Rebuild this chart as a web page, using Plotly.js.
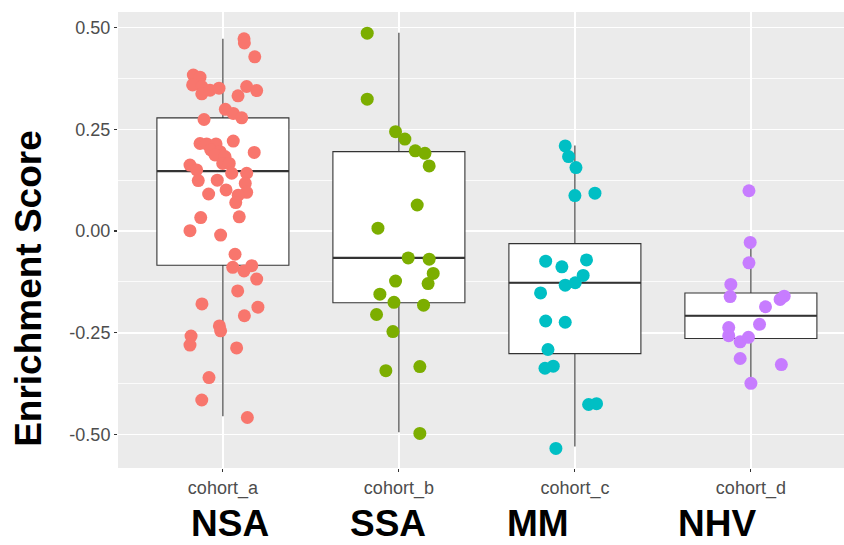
<!DOCTYPE html>
<html>
<head>
<meta charset="utf-8">
<script src="https://cdn.plot.ly/plotly-3.0.1.min.js"></script>
<style>html,body{margin:0;padding:0;background:#fff;}#chart{width:844px;height:545px;}</style>
</head>
<body>
<div id="chart"></div>
<script>
// ---- data ----
const categories = ['cohort_a', 'cohort_b', 'cohort_c', 'cohort_d'];
const groupLabels = ['NSA', 'SSA', 'MM', 'NHV'];
const groupColors = ['#F8766D', '#7CAE00', '#00BFC4', '#C77CFF'];

// box statistics (q1, median, q3, whisker ends)
const boxQ1 = [-0.084, -0.176, -0.301, -0.264];
const boxMedian = [0.147, -0.066, -0.127, -0.208];
const boxQ3 = [0.278, 0.195, -0.031, -0.152];
const boxLower = [-0.455, -0.494, -0.529, -0.373];
const boxUpper = [0.472, 0.487, 0.210, -0.028];

// jittered points: values and horizontal jitter (category units)
const aValues = [0.472, 0.462, 0.428, 0.383, 0.378, 0.359, 0.355, 0.337, 0.346, 0.351, 0.355, 0.345, 0.332, 0.299, 0.289, 0.278, 0.274, 0.215, 0.214, 0.214, 0.221, 0.199, 0.195, 0.187, 0.183, 0.193, 0.162, 0.150, 0.166, 0.166, 0.142, 0.142, 0.124, 0.125, 0.117, 0.101, 0.095, 0.091, 0.088, 0.070, 0.033, 0.035, 0.001, -0.010, -0.057, -0.089, -0.098, -0.085, -0.118, -0.147, -0.179, -0.187, -0.208, -0.233, -0.245, -0.258, -0.280, -0.287, -0.360, -0.415, -0.458];
const aJitter = [0.120, 0.122, 0.181, -0.168, -0.130, -0.172, -0.120, -0.120, -0.073, -0.022, 0.135, 0.192, 0.086, 0.014, 0.059, 0.107, -0.107, -0.130, -0.092, -0.039, 0.059, -0.069, -0.016, -0.045, 0.012, 0.178, -0.187, -0.149, -0.001, 0.036, 0.050, 0.135, -0.140, -0.032, 0.127, 0.018, 0.135, -0.081, 0.087, 0.073, -0.126, 0.093, -0.187, -0.013, 0.069, 0.056, 0.120, 0.164, 0.192, 0.084, -0.119, 0.199, 0.122, -0.020, -0.013, -0.181, -0.187, 0.078, -0.079, -0.120, 0.139];

const bValues = [0.486, 0.324, 0.244, 0.226, 0.197, 0.191, 0.160, 0.064, 0.007, -0.066, -0.069, -0.104, -0.129, -0.123, -0.155, -0.175, -0.182, -0.205, -0.247, -0.343, -0.333, -0.497];
const bJitter = [-0.180, -0.180, -0.019, 0.034, 0.093, 0.148, 0.172, 0.104, -0.119, 0.053, 0.172, 0.195, 0.166, -0.019, -0.108, -0.028, 0.140, -0.127, -0.034, -0.074, 0.119, 0.119];

const cValues = [0.209, 0.183, 0.156, 0.087, 0.093, -0.074, -0.071, -0.088, -0.109, -0.127, -0.133, -0.152, -0.221, -0.224, -0.291, -0.337, -0.332, -0.426, -0.424, -0.534];
const cJitter = [-0.055, -0.036, 0.006, 0.000, 0.114, -0.166, 0.066, -0.074, 0.047, 0.002, -0.055, -0.195, -0.166, -0.055, -0.153, -0.170, -0.123, 0.078, 0.123, -0.108];

const dValues = [0.099, -0.028, -0.078, -0.131, -0.161, -0.160, -0.168, -0.186, -0.229, -0.237, -0.257, -0.272, -0.261, -0.313, -0.328, -0.374];
const dJitter = [-0.011, -0.004, -0.011, -0.114, -0.118, 0.189, 0.166, 0.083, 0.049, -0.126, -0.126, -0.061, -0.014, -0.061, 0.173, 0.000];

const yTickVals = [-0.5, -0.25, 0, 0.25, 0.5];
const yTickText = ['-0.50', '-0.25', '0.00', '0.25', '0.50'];

// ---- build traces ----
const positions = categories.map((c, i) => i + 1);
const boxWidth = 0.75;
const traces = [];

traces.push({
  type: 'box',
  x: positions,
  q1: boxQ1, median: boxMedian, q3: boxQ3,
  lowerfence: boxLower, upperfence: boxUpper,
  width: boxWidth,
  boxpoints: false,
  whiskerwidth: 0,
  fillcolor: '#FFFFFF',
  line: {color: '#333333', width: 1.1},
  hoverinfo: 'skip'
});

// thicker median segments (ggplot fattened median)
const medX = [], medY = [];
positions.forEach((p, i) => {
  medX.push(p - boxWidth / 2, p + boxWidth / 2, null);
  medY.push(boxMedian[i], boxMedian[i], null);
});
traces.push({
  type: 'scatter', mode: 'lines', x: medX, y: medY,
  line: {color: '#333333', width: 2.2}, hoverinfo: 'skip'
});

const groupValues = [aValues, bValues, cValues, dValues];
const groupJitter = [aJitter, bJitter, cJitter, dJitter];
groupValues.forEach((vals, i) => {
  traces.push({
    type: 'scatter', mode: 'markers',
    x: vals.map((v, k) => positions[i] + groupJitter[i][k]),
    y: vals,
    marker: {color: groupColors[i], size: 13, line: {width: 0}},
    name: categories[i]
  });
});

const annotations = groupLabels.map((lab, i) => ({
  text: '<b>' + lab + '</b>', showarrow: false,
  xref: 'x', yref: 'paper',
  x: [1.041, 1.939, 2.790, 3.806][i], y: -0.1228,
  xanchor: 'center', yanchor: 'middle',
  font: {family: 'Liberation Sans, Arial, sans-serif', size: 37, color: '#000000'}
}));
annotations.push({
  text: '<b>Enrichment Score</b>', showarrow: false, textangle: -90,
  xref: 'paper', yref: 'paper', x: -0.1226, y: 0.395,
  xanchor: 'center', yanchor: 'middle',
  font: {family: 'Liberation Sans, Arial, sans-serif', size: 37, color: '#000000'}
});

const tickFont = {family: 'Liberation Sans, Arial, sans-serif', size: 18, color: '#4D4D4D'};

const layout = {
  width: 844, height: 545,
  margin: {l: 118, r: 0, t: 12, b: 77, pad: 0},
  paper_bgcolor: '#FFFFFF',
  plot_bgcolor: '#EBEBEB',
  showlegend: false,
  xaxis: {
    range: [0.404, 4.529],
    tickmode: 'array', tickvals: positions, ticktext: categories,
    ticks: 'outside', ticklen: 3, tickwidth: 1.1, tickcolor: '#333333',
    showgrid: true, gridcolor: '#FFFFFF', gridwidth: 1.5,
    zeroline: false, showline: false,
    tickfont: tickFont
  },
  yaxis: {
    range: [-0.582, 0.538],
    tickmode: 'array', tickvals: yTickVals, ticktext: yTickText,
    ticks: 'outside', ticklen: 3, tickwidth: 1.1, tickcolor: '#333333',
    showgrid: true, gridcolor: '#FFFFFF', gridwidth: 1.5,
    minor: {tickmode: 'linear', tick0: 0.125, dtick: 0.25, showgrid: true, gridcolor: '#FFFFFF', gridwidth: 0.8, ticks: ''},
    zeroline: false, showline: false,
    tickfont: tickFont
  },
  annotations: annotations
};

Plotly.newPlot('chart', traces, layout, {displayModeBar: false, staticPlot: true});
</script>
</body>
</html>
